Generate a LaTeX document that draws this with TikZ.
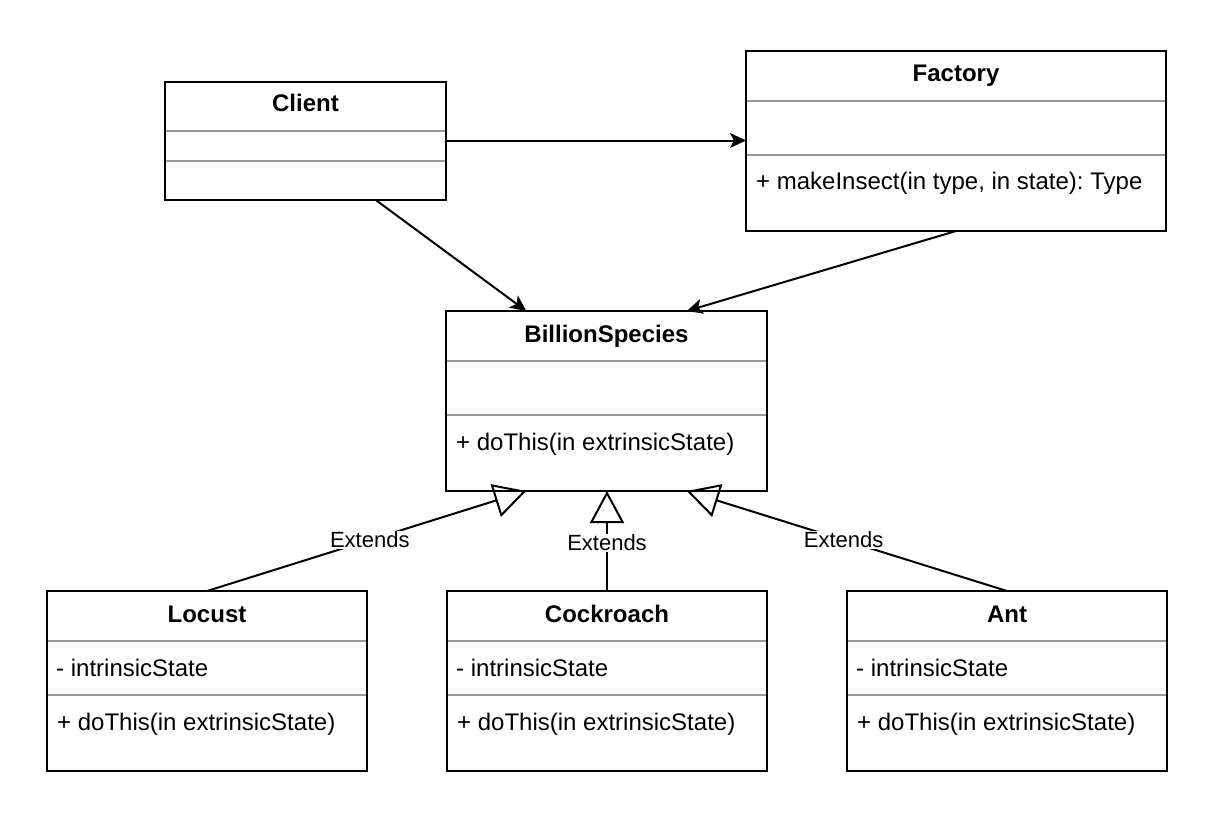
\documentclass[tikz,border=0pt]{standalone}
\usepackage{fontspec}
\setmainfont{Liberation Sans}
\usetikzlibrary{arrows.meta,calc}
\definecolor{sepgray}{RGB}{153,153,153}
\frenchspacing
\begin{document}
\begin{tikzpicture}[x=1pt,y=-1pt,
  umlbox/.style={draw,line width=2pt,inner sep=0pt,outer sep=0pt,anchor=north west},
  sepline/.style={draw=sepgray,line width=2pt},
  ttl/.style={font=\fontsize{24}{28}\selectfont\bfseries,anchor=base,inner sep=0pt},
  member/.style={font=\fontsize{24}{28}\selectfont,anchor=base west,inner sep=0pt},
  assoc/.style={line width=2pt,-{Stealth[length=16pt,width=15pt,inset=4pt]}},
  ext/.style={line width=2pt,-{Triangle[open,length=32pt,width=34pt,line width=2pt]}},
  extlbl/.style={font=\fontsize{22}{26}\selectfont,fill=white,inner sep=1pt}
]
\useasboundingbox (0,0) rectangle (1208,822);

% ---------- separators helper ----------
\newcommand\umlsep[2]{%
  \draw[sepline] ($(#1.north west)+(1,#2)$) -- ($(#1.north east)+(-1,#2)$);}

% ---------- Client ----------
\node[umlbox,minimum width=281pt,minimum height=118pt] (client) at (165,82) {};
\umlsep{client}{49}
\umlsep{client}{79}
\node[ttl] (clientT) at ($(client.north)+(0,29.5)$) {Client};

% ---------- Factory ----------
\node[umlbox,minimum width=420pt,minimum height=180pt] (factory) at (746,51) {};
\umlsep{factory}{50}
\umlsep{factory}{104}
\node[ttl] (factoryT) at ($(factory.north)+(0,30.5)$) {Factory};
\node[member] (factoryM) at ($(factory.north west)+(10,138)$) {+ makeInsect(in type, in state): Type};

% ---------- BillionSpecies ----------
\node[umlbox,minimum width=321pt,minimum height=180pt] (bs) at (446,311) {};
\umlsep{bs}{50}
\umlsep{bs}{104}
\node[ttl] (bsT) at ($(bs.north)+(0,31)$) {BillionSpecies};
\node[member] (bsM) at ($(bs.north west)+(10,139)$) {+ doThis(in extrinsicState)};

% ---------- Locust ----------
\node[umlbox,minimum width=320pt,minimum height=180pt] (locust) at (47,591) {};
\umlsep{locust}{50}
\umlsep{locust}{104}
\node[ttl] (locustT) at ($(locust.north)+(0,31)$) {Locust};
\node[member] (locustA) at ($(locust.north west)+(9,85)$) {- intrinsicState};
\node[member] (locustM) at ($(locust.north west)+(10,139)$) {+ doThis(in extrinsicState)};

% ---------- Cockroach ----------
\node[umlbox,minimum width=320pt,minimum height=180pt] (cock) at (447,591) {};
\umlsep{cock}{50}
\umlsep{cock}{104}
\node[ttl] (cockT) at ($(cock.north)+(0,31)$) {Cockroach};
\node[member] (cockA) at ($(cock.north west)+(9,85)$) {- intrinsicState};
\node[member] (cockM) at ($(cock.north west)+(10,139)$) {+ doThis(in extrinsicState)};

% ---------- Ant ----------
\node[umlbox,minimum width=320pt,minimum height=180pt] (ant) at (847,591) {};
\umlsep{ant}{50}
\umlsep{ant}{104}
\node[ttl] (antT) at ($(ant.north)+(0,31)$) {Ant};
\node[member] (antA) at ($(ant.north west)+(9,85)$) {- intrinsicState};
\node[member] (antM) at ($(ant.north west)+(10,139)$) {+ doThis(in extrinsicState)};

% ---------- associations ----------
\draw[assoc] ($(client.north east)+(0,58.5)$) -- ($(factory.north west)+(0,89.5)$);
\draw[assoc] ($(client.south west)!0.75!(client.south east)$) -- ($(bs.north west)!0.25!(bs.north east)$);
\draw[assoc] (factory.south) -- ($(bs.north west)!0.75!(bs.north east)$);

% ---------- generalizations ----------
\draw[ext] (locust.north) -- node[extlbl,pos=0.51] {Extends} ($(bs.south west)!0.25!(bs.south east)$);
\draw[ext] (cock.north) -- node[extlbl,pos=0.48] {Extends} (cock.north |- bs.south);
\draw[ext] (ant.north) -- node[extlbl,pos=0.51] {Extends} ($(bs.south west)!0.75!(bs.south east)$);
\end{tikzpicture}
\end{document}
